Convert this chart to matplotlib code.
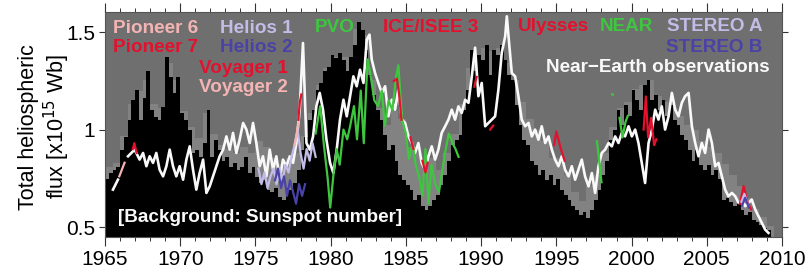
import numpy as np
import matplotlib
matplotlib.use("Agg")
import matplotlib.pyplot as plt

plt.rcParams['font.family'] = ['Liberation Sans', 'DejaVu Sans']

# ---------------- data ----------------
# Sunspot number, quarter-year bins starting 1965.0 (black bars)
ssn_start = 1965.0
ssn_step = 0.25
ssn = [52, 57, 60, 62, 77, 89, 104, 122, 131, 104, 124, 148, 113, 107, 104, 116,
       160, 142, 128, 142, 110, 104, 95, 75, 77, 71, 84, 113, 71, 86, 77, 68,
       71, 62, 66, 60, 62, 71, 57, 62, 53, 48, 51, 42, 40, 44, 36, 33,
       44, 42, 48, 60, 77, 89, 104, 113, 131, 137, 148, 151,
       162, 159, 164, 157, 148, 160, 171, 191, 184, 166, 144, 126, 113, 104, 91, 77,
       82, 68, 55, 51, 46, 42, 33, 37, 28, 24, 28, 33, 37, 46, 55, 68,
       82, 86, 91, 113, 131, 166, 148, 162, 157, 171, 144, 166, 162, 171, 157, 144,
       140, 117, 100, 86, 82, 68, 64, 55, 60, 51, 55, 46, 52, 42, 37, 33,
       28, 24, 20, 22, 17, 24, 33, 42, 55, 68, 86, 95, 113, 100, 117, 108,
       131, 122, 113, 135, 140, 122, 126, 113, 122, 108, 117, 104, 100, 91, 86, 77,
       68, 77, 64, 60, 64, 55, 60, 52, 33, 35, 31, 28, 33, 24, 20, 22,
       15, 13, 11, 8, 6]
# Envelope (light grey bars), half-year bins starting 1965.0
env_start = 1965.0
env_step = 0.5
ssn_env = [62, 66, 90, 118, 130, 140, 118, 115, 155, 140, 112, 98, 88, 110, 92, 82,
           78, 75, 80, 75, 85, 80, 70, 65, 70, 75, 90, 110, 135, 150,
           160, 160, 160, 185, 180, 140, 115, 100, 112, 105, 80, 75, 65, 70, 60, 75,
           92, 118, 150, 160, 168, 165, 168, 155, 140, 120, 105, 95, 85, 70,
           70, 55, 40, 32, 45, 55, 75, 98, 115, 120, 132, 135, 140, 125, 120, 115,
           108, 100, 95, 85, 80, 75, 65, 55, 45, 35, 25, 18, 10]

# Near-Earth observations (white)
ne_years = [1965.53, 1965.86, np.nan,
            1966.53, 1966.97, 1967.30, 1967.53, 1967.75, 1967.97, 1968.19, 1968.41,
            1968.63, 1968.86, 1969.08, 1969.30, 1969.52, 1969.74, 1969.96, 1970.19,
            1970.41, 1970.63, 1970.85, 1971.07, 1971.29, 1971.52, 1971.74, 1971.96,
            1972.18, 1972.40, 1972.62, 1972.85, 1973.07, 1973.29, 1973.51, 1973.73,
            1973.95, 1974.18, 1974.40, 1974.62, 1974.84, 1975.06, 1975.28, 1975.50,
            1975.73, 1975.95, 1976.17, 1976.39, 1976.61, 1976.83, 1977.06, 1977.28,
            1977.50, 1977.72, 1977.94, 1978.16, 1978.39, 1978.61, 1978.83, 1979.05,
            1979.27, 1979.49, 1979.72,
            1979.96, 1980.18, 1980.40, 1980.62, 1980.85, 1981.07, 1981.29, 1981.51,
            1981.73, 1981.95, 1982.18, 1982.40, 1982.58, 1982.73, 1982.95, 1983.17,
            1983.40, 1983.62, 1983.84, 1984.06, 1984.28, 1984.50, 1984.73, 1984.95,
            1985.17, 1985.39, 1985.61, 1985.83, 1986.05, 1986.28, 1986.50, 1986.72,
            1986.94, 1987.16, 1987.38, 1987.61, 1987.83, 1988.05, 1988.27, 1988.49,
            1988.71, 1988.94, 1989.16, 1989.38, 1989.60, 1989.82, 1990.04, 1990.27,
            1990.49, 1990.71, 1990.93, 1991.15, 1991.37, 1991.60, 1991.71, 1991.86,
            1992.04, 1992.26, 1992.48, 1992.70, 1992.93, 1993.15, 1993.37, 1993.59,
            1993.81, 1994.03, 1994.26, 1994.48, 1994.70,
            1994.92, 1995.14, 1995.36, 1995.58, 1995.81, 1996.03, 1996.25, 1996.47,
            1996.69, 1996.91, 1997.14, 1997.36, 1997.58, 1997.80, 1998.02, 1998.24,
            1998.47, 1998.69, 1998.91, 1999.13, 1999.35, 1999.57, 1999.80, 2000.02,
            2000.24, 2000.46, 2000.68, 2000.90, 2001.13, 2001.35, 2001.57, 2001.79,
            2002.01, 2002.23, 2002.46, 2002.68, 2002.90, 2003.12, 2003.34, 2003.56,
            2003.79, 2004.01, 2004.23, 2004.45, 2004.67, 2004.89, 2005.12, 2005.34,
            2005.56, 2005.78, 2006.00, 2006.22, 2006.44, 2006.67, 2006.89, 2007.11,
            2007.33, 2007.55, 2007.77, 2007.99, 2008.22, 2008.44, 2008.66, 2008.88,
            2009.10]
ne_flux = [0.692, 0.743, np.nan,
           0.863, 0.897, 0.846, 0.880, 0.812, 0.863, 0.829, 0.880,
           0.794, 0.760, 0.812, 0.897, 0.812, 0.760, 0.812, 0.743,
           0.846, 0.914, 0.794, 0.692, 0.777, 0.846, 0.675, 0.709,
           0.760, 0.812, 0.863, 0.897, 0.965, 0.897, 0.983, 0.880,
           0.948, 1.034, 1.000, 0.931, 1.034, 0.931, 0.812, 0.863,
           0.760, 0.897, 0.794, 0.863, 0.743, 0.846, 0.812, 0.863,
           0.829, 0.931, 1.102, 1.444, 0.931, 0.897, 0.965, 1.119,
           1.188, 1.102, 0.948,
           0.829, 0.777, 0.897, 1.051, 1.153, 1.068, 1.171, 1.273,
           1.222, 1.307, 1.239, 1.461, 1.487, 1.359, 1.290, 1.239,
           1.188, 1.222, 1.068, 1.153, 1.102, 1.205, 1.051, 1.034,
           0.965, 0.931, 0.880, 0.931, 0.829, 0.794, 0.863, 0.914,
           0.846, 0.897, 0.983, 1.017, 1.051, 1.102, 1.051, 1.119,
           1.085, 1.153, 1.137, 1.273, 1.420, 1.171, 1.239, 1.017,
           1.034, 1.051, 1.068, 1.205, 1.393, 1.478, 1.581, 1.444,
           1.290, 1.273, 1.171, 1.051, 1.017, 1.034, 0.965, 1.000,
           0.948, 1.017, 0.931, 0.965, 0.897,
           0.846, 0.812, 0.863, 0.794, 0.760, 0.812, 0.743, 0.794,
           0.846, 0.760, 0.709, 0.777, 0.675, 0.812, 0.880, 0.897,
           0.931, 0.914, 0.965, 0.931, 0.983, 0.965, 1.017, 0.965,
           1.000, 0.931, 0.829, 0.726, 0.931, 1.000, 1.102, 1.051,
           1.119, 1.000, 1.068, 1.188, 1.102, 1.068, 1.137, 1.171,
           1.188, 1.017, 0.931, 0.863, 0.931, 0.880, 1.000, 0.931,
           0.812, 0.829, 0.760, 0.692, 0.658, 0.675, 0.658, 0.624,
           0.641, 0.607, 0.624, 0.641, 0.590, 0.555, 0.521, 0.487,
           0.470]

pioneer6_years = [1965.95, 1966.10, 1966.30]
pioneer6_flux = [0.76, 0.79, 0.83]
pioneer7_years = [1966.85, 1966.95, 1967.10]
pioneer7_flux = [0.90, 0.93, 0.88]
helios1_years = [1975.2, 1975.4, 1975.6, 1975.8, 1976.0, 1976.2, 1976.4, 1976.6, 1976.8, 1977.0,
                 1977.2, 1977.4, 1977.6, 1977.8, 1978.0, 1978.2, 1978.4, 1978.6, 1978.8, 1979.0]
helios1_flux = [0.80, 0.72, 0.78, 0.70, 0.76, 0.80, 0.72, 0.80, 0.74, 0.82,
                0.78, 0.86, 0.92, 1.00, 0.88, 0.80, 0.90, 0.84, 0.93, 0.86]
helios2_years = [1976.3, 1976.5, 1976.7, 1976.9, 1977.1, 1977.3, 1977.5, 1977.7, 1977.9, 1978.1, 1978.3]
helios2_flux = [0.74, 0.80, 0.70, 0.76, 0.66, 0.74, 0.68, 0.62, 0.72, 0.66, 0.72]
voyager1_years = [1977.85, 1977.95, 1978.05]
voyager1_flux = [1.05, 1.14, 1.18]
voyager2_years = [1977.60, 1977.75, 1977.90]
voyager2_flux = [0.92, 0.98, 1.06]
pvo_years = [1979.0, 1979.3, 1979.55, 1979.8, 1979.97, 1980.2, 1980.4, 1980.6, 1980.85, 1981.1,
             1981.3, 1981.55, 1981.75, 1982.0, 1982.2, 1982.45, 1982.65, 1982.9, 1983.15, 1983.4,
             1983.6, 1983.85, 1984.1, 1984.35, 1984.5, 1984.75, 1985.0, 1985.2, 1985.45, 1985.65,
             1985.9, 1986.1, 1986.3, 1986.5, 1986.7, 1986.95, 1987.2, 1987.4, 1987.6, 1987.85,
             1988.1, 1988.3, 1988.5]
pvo_flux = [0.98, 1.12, 0.92, 0.75, 0.60, 0.78, 0.90, 0.82, 1.00, 0.95,
            1.02, 1.12, 0.95, 1.20, 0.93, 1.36, 1.28, 1.15, 1.12, 1.20,
            1.02, 1.15, 1.10, 1.27, 1.33, 1.05, 0.98, 0.85, 0.93, 0.82,
            0.75, 0.66, 0.90, 0.62, 0.82, 0.72, 0.68, 0.78, 0.88, 0.98,
            0.93, 0.90, 0.86]
ice_years = [1984.2, 1984.4, 1984.55, 1984.7, np.nan, 1985.3, 1985.5, np.nan,
             1986.1, 1986.3, 1986.45, np.nan, 1989.55, 1989.7, np.nan, 1990.6, 1990.8]
ice_flux = [1.25, 1.26, 1.18, 1.05, np.nan, 0.96, 0.90, np.nan,
            0.84, 0.78, 0.83, np.nan, 1.22, 1.27, np.nan, 1.00, 1.02]
ulysses_years = [1994.85, 1995.0, 1995.3, 1995.55, np.nan,
                 2000.8, 2000.95, 2001.1, 2001.3, 2001.5, 2001.65, np.nan,
                 2007.2, 2007.45, 2007.7, 2007.95]
ulysses_flux = [0.92, 0.99, 0.90, 0.84, np.nan,
                1.00, 1.17, 0.96, 1.06, 0.92, 0.95, np.nan,
                0.62, 0.71, 0.63, 0.59]
near_years = [1997.7, 1997.85, 1998.0, np.nan, 1999.2, 1999.4, 1999.6, 1999.75, np.nan, 1998.70, 1998.76]
near_flux = [0.94, 0.84, 0.73, np.nan, 1.06, 0.96, 1.04, 1.07, np.nan, 1.18, 1.18]
stereoa_years = [2007.30, 2007.50, 2007.75]
stereoa_flux = [0.63, 0.67, 0.61]
stereob_years = [2007.35, 2007.55, 2007.80]
stereob_flux = [0.61, 0.65, 0.60]

xticks = [1965, 1970, 1975, 1980, 1985, 1990, 1995, 2000, 2005, 2010]
yticks = [0.5, 1.0, 1.5]
ytick_labels = ['0.5', '1', '1.5']

# ---------------- colours ----------------
C_BG = '#6f6f6f'
C_ENV = '#828282'
C_PINK = '#f4b4b4'
C_RED = '#e3112e'
C_LAV = '#c3bce6'
C_BLUE = '#4a42a6'
C_GREEN = '#3fc63f'
C_WHITE = '#f9f9f9'

# ---------------- figure ----------------
fig = plt.figure(figsize=(8.06, 2.75), dpi=100)
pos = [105 / 806, 1 - 237 / 275, (782 - 105) / 806, (237 - 12) / 275]
axb = fig.add_axes(pos)
ax = fig.add_axes(pos, sharex=axb)
ax.patch.set_visible(False)

axb.set_facecolor(C_BG)
env_x = env_start + env_step * np.arange(len(ssn_env))
ssn_x = ssn_start + ssn_step * np.arange(len(ssn))
axb.bar(env_x, ssn_env, width=env_step, align='edge', color=C_ENV, linewidth=0)
axb.bar(ssn_x, ssn, width=ssn_step, align='edge', color='black', linewidth=0)
axb.set_ylim(0, 200)
axb.set_yticks([])
for s in axb.spines.values():
    s.set_visible(False)
axb.tick_params(axis='x', which='both', bottom=False, top=False, labelbottom=False)

lw_w = 1.9
lw_c = 1.6
ax.plot(ne_years, ne_flux, color=C_WHITE, lw=lw_w, zorder=3)
ax.plot(pioneer6_years, pioneer6_flux, color=C_PINK, lw=lw_c, zorder=4)
ax.plot(pioneer7_years, pioneer7_flux, color=C_RED, lw=lw_c, zorder=4)
ax.plot(helios1_years, helios1_flux, color=C_LAV, lw=lw_c, zorder=4)
ax.plot(helios2_years, helios2_flux, color=C_BLUE, lw=lw_c, zorder=4)
ax.plot(pvo_years, pvo_flux, color=C_GREEN, lw=lw_c, zorder=4)
ax.plot(voyager2_years, voyager2_flux, color=C_PINK, lw=lw_c, zorder=5)
ax.plot(voyager1_years, voyager1_flux, color=C_RED, lw=lw_c, zorder=5)
ax.plot(ice_years, ice_flux, color=C_RED, lw=lw_c, zorder=5)
ax.plot(ulysses_years, ulysses_flux, color=C_RED, lw=lw_c, zorder=5)
ax.plot(near_years, near_flux, color=C_GREEN, lw=lw_c, zorder=5)
ax.plot(stereoa_years, stereoa_flux, color=C_LAV, lw=lw_c, zorder=5)
ax.plot(stereob_years, stereob_flux, color=C_BLUE, lw=lw_c, zorder=5)

ax.set_xlim(1965, 2010)
ax.set_ylim(0.449, 1.603)
ax.set_xticks(xticks)
ax.set_xticklabels([str(v) for v in xticks])
ax.set_xticks(np.arange(1965, 2011, 1), minor=True)
ax.set_yticks(yticks)
ax.set_yticklabels(ytick_labels)
ax.tick_params(axis='x', which='major', direction='out', length=6.5, width=0.8,
               top=True, bottom=True, labelsize=15, pad=3, color='#333333')
ax.tick_params(axis='x', which='minor', direction='out', length=3, width=0.7,
               top=True, bottom=True, color='#333333')
ax.tick_params(axis='y', which='major', direction='out', length=4, width=0.8,
               left=True, right=True, labelsize=15, pad=3, color='#333333')
for s in ax.spines.values():
    s.set_color('#555555')
    s.set_linewidth(0.8)

fig.text(45 / 806, 1 - 127 / 275, 'Total heliospheric\nflux [x10$^{15}$ Wb]',
         fontsize=15.5, rotation=90, ha='center', va='center', linespacing=1.1,
         multialignment='center')

# ---------------- labels ----------------
fs = 13.6
def lab(x, y, s, c, ha='left'):
    ax.text(x, y, s, color=c, fontsize=fs, fontweight='bold', ha=ha, va='baseline',
            transform=ax.transData, zorder=6)

lab(1965.55, 1.497, 'Pioneer 6', C_PINK)
lab(1965.55, 1.400, 'Pioneer 7', C_RED)
lab(1972.65, 1.497, 'Helios 1', C_LAV)
lab(1972.65, 1.400, 'Helios 2', C_BLUE)
lab(1977.15, 1.292, 'Voyager 1', C_RED, ha='right')
lab(1977.15, 1.195, 'Voyager 2', C_PINK, ha='right')
lab(1978.96, 1.500, 'PVO', C_GREEN)
lab(1983.48, 1.500, 'ICE/ISEE 3', C_RED)
lab(1992.46, 1.508, 'Ulysses', C_RED)
lab(1997.91, 1.508, 'NEAR', C_GREEN)
lab(2008.68, 1.508, 'STEREO A', C_LAV, ha='right')
lab(2008.68, 1.400, 'STEREO B', C_BLUE, ha='right')
lab(2009.15, 1.297, 'Near\u2212Earth observations', C_WHITE, ha='right')
lab(1965.86, 0.528, '[Background: Sunspot number]', C_WHITE)

fig.savefig('out.png', dpi=100)
